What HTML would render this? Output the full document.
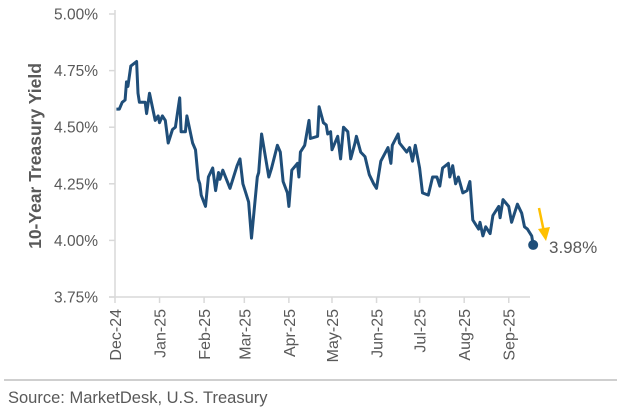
<!DOCTYPE html>
<html><head><meta charset="utf-8"><style>
html,body{margin:0;padding:0;background:#fff;}
body{width:621px;height:413px;overflow:hidden;font-family:"Liberation Sans",sans-serif;}
</style></head><body>
<svg id="chart" width="621" height="413" viewBox="0 0 621 413" xmlns="http://www.w3.org/2000/svg">
<g id="grid"></g>
<text transform="translate(41,156) rotate(-90)" text-anchor="middle" font-size="17.5" font-weight="bold" fill="#595959" font-family="Liberation Sans, sans-serif">10-Year Treasury Yield</text>
<path id="line" fill="none" stroke="#1f4e79" stroke-width="3" stroke-linejoin="round"></path>
<circle id="endpt" r="5" fill="#1f4e79"></circle>
<line x1="539" y1="208" x2="544" y2="232" stroke="#ffc000" stroke-width="2.5"/>
<polygon points="538,229 550,227 546,241" fill="#ffc000"/>
<text id="endlbl" x="549" y="253" font-size="17" fill="#595959">3.98%</text>
<line x1="4" y1="380" x2="617" y2="380" stroke="#bfbfbf" stroke-width="1.5"/>
<text x="8" y="403" font-size="16.5" fill="#595959">Source: MarketDesk, U.S. Treasury</text>
</svg>
<script>
const days=[1,3,5,7,8,9,11,15,16,17,21,22,24,28,30,31,33,35,37,40,42,45,46,49,50,54,56,58,59,60,63,65,68,70,72,73,75,80,85,87,89,91,93,95,99,100,102,107,109,113,115,117,120,121,123,127,128,129,132,135,136,141,142,145,147,148,150,151,155,157,159,162,164,167,168,171,174,177,180,182,185,190,192,193,197,198,203,205,207,209,212,214,218,221,224,226,228,232,233,235,237,239,242,245,247,249,253,254,256,258,261,263,267,268,270,274,276,280,283,285,287,290,291];
const yields=[4.58,4.58,4.61,4.62,4.70,4.68,4.77,4.79,4.65,4.61,4.61,4.56,4.65,4.53,4.55,4.52,4.55,4.53,4.43,4.49,4.50,4.63,4.48,4.48,4.55,4.43,4.40,4.27,4.25,4.20,4.15,4.28,4.32,4.22,4.30,4.27,4.31,4.23,4.33,4.36,4.25,4.21,4.17,4.01,4.28,4.30,4.47,4.28,4.32,4.42,4.39,4.26,4.21,4.15,4.31,4.34,4.28,4.39,4.42,4.53,4.45,4.46,4.59,4.52,4.51,4.47,4.48,4.40,4.46,4.36,4.50,4.48,4.36,4.43,4.46,4.39,4.37,4.29,4.25,4.23,4.35,4.41,4.34,4.42,4.47,4.43,4.39,4.41,4.35,4.42,4.32,4.21,4.20,4.28,4.28,4.24,4.32,4.34,4.28,4.33,4.25,4.28,4.21,4.22,4.26,4.09,4.05,4.08,4.02,4.06,4.03,4.11,4.15,4.10,4.18,4.15,4.08,4.16,4.12,4.06,4.05,4.02,3.98];
const yTicks=[3.75,4.00,4.25,4.50,4.75,5.00];
const monthLabels=["Dec-24","Jan-25","Feb-25","Mar-25","Apr-25","May-25","Jun-25","Jul-25","Aug-25","Sep-25"];
const monthDays=[0,31,62,90,121,151,182,212,243,274];

const X0=115,PXD=1.437,Y0=297,YTOP=14;
function xs(d){return X0+d*PXD;}
function ys(v){return Y0-(v-3.75)/(5.0-3.75)*(Y0-YTOP);}
const NS="http://www.w3.org/2000/svg";
const g=document.getElementById('grid');
function mk(t,a){const e=document.createElementNS(NS,t);for(const k in a)e.setAttribute(k,a[k]);return e;}
const ya=mk('line',{x1:X0,y1:10,x2:X0,y2:Y0,stroke:'#d9d9d9','stroke-width':1.5});


g.appendChild(ya);
const xa=mk('line',{x1:X0-6,y1:Y0,x2:530,y2:Y0,stroke:'#d9d9d9','stroke-width':1.5});


g.appendChild(xa);
yTicks.forEach(v=>{
  const y=ys(v);
  const tk=mk('line',{x1:X0-6,y1:y,x2:X0,y2:y,stroke:'#d9d9d9','stroke-width':1.5});
  
  
  g.appendChild(tk);
  const t=mk('text',{x:98,y:y+5.5,'text-anchor':'end','font-size':15.5,fill:'#595959'});
  
  
  t.textContent=v.toFixed(2)+'%';
  g.appendChild(t);
});
monthLabels.forEach((m,i)=>{
  const x=xs(monthDays[i]);
  const tk=mk('line',{x1:x,y1:Y0,x2:x,y2:Y0+6,stroke:'#d9d9d9','stroke-width':1.5});
  
  
  g.appendChild(tk);
  const t=mk('text',{transform:`translate(${x+6},309) rotate(-90)`,'text-anchor':'end','font-size':16,fill:'#595959'});
  
  
  t.textContent=m;
  g.appendChild(t);
});
let d='';
days.forEach((dd,i)=>{d+=(i?'L':'M')+xs(dd).toFixed(1)+','+ys(yields[i]).toFixed(1);});
document.getElementById('line').setAttribute('d',d);
const n=days.length-1;
const c=document.getElementById('endpt');
c.setAttribute('cx',xs(days[n]));c.setAttribute('cy',ys(yields[n]));
document.getElementById('endlbl').textContent=yields[n].toFixed(2)+'%';
</script>
</body></html>
